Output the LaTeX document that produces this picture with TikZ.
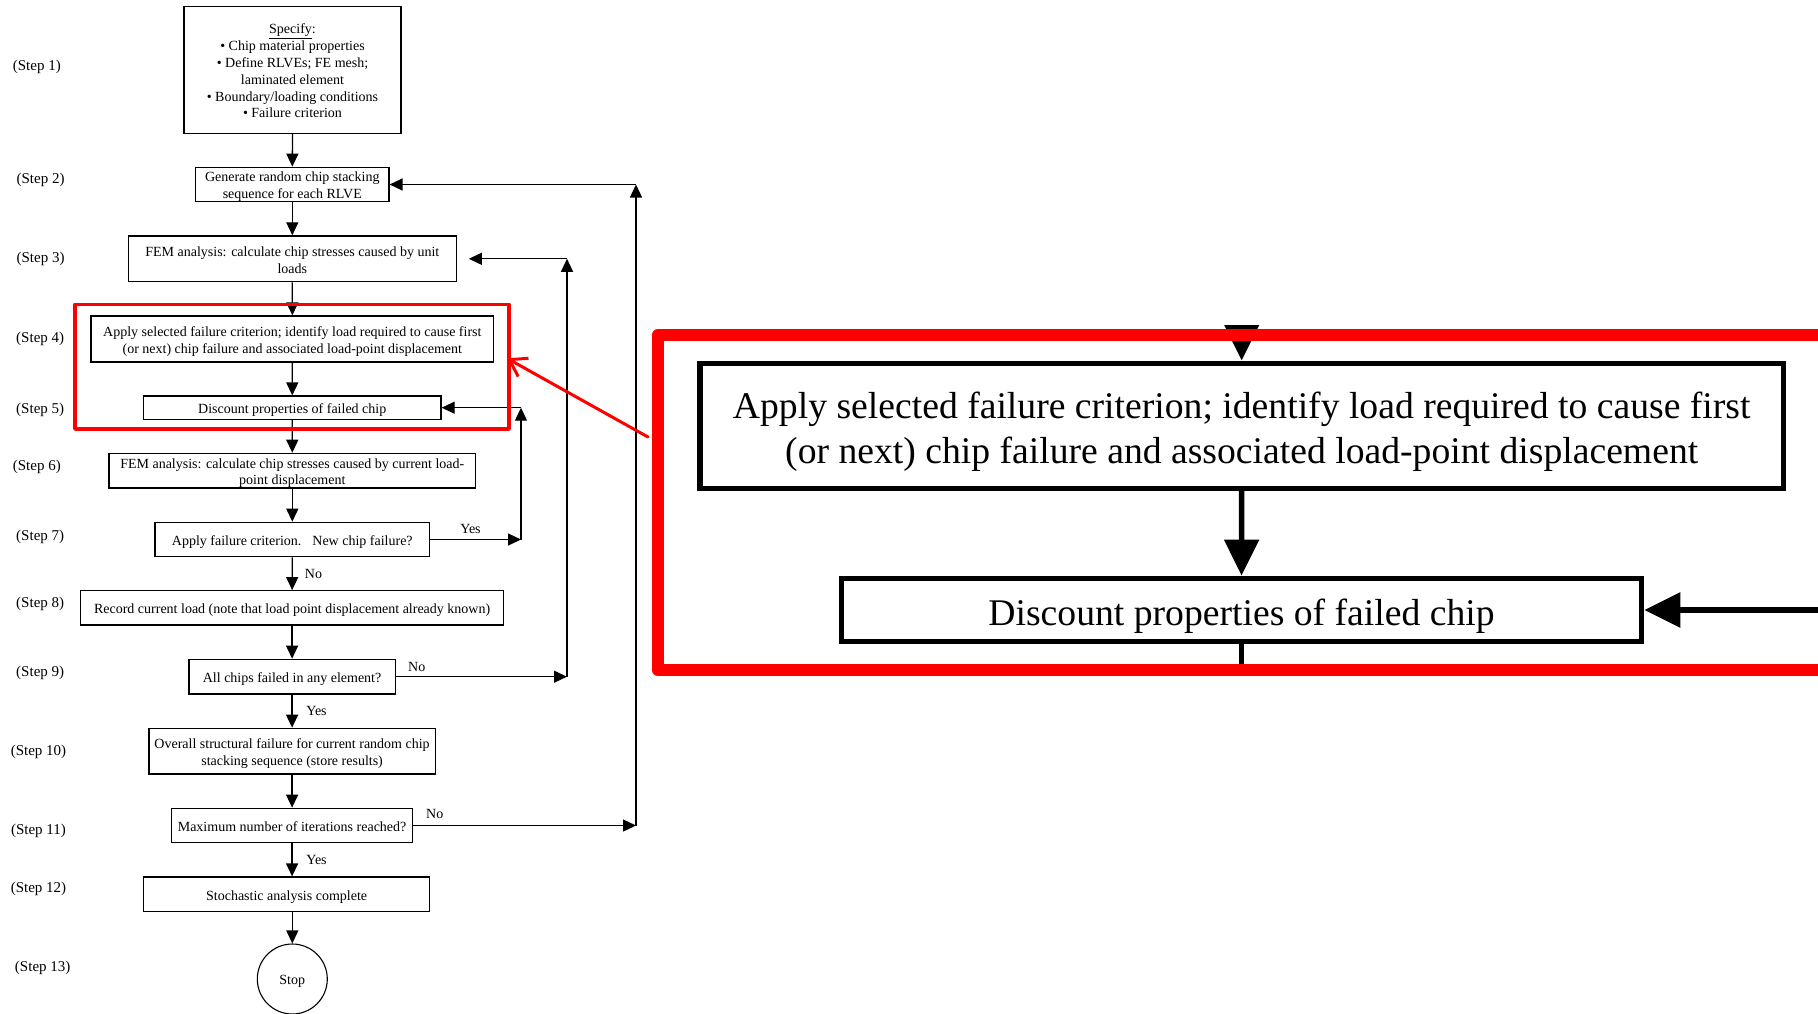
\documentclass[tikz,border=0pt]{standalone}
\usepackage{fontspec}
\setmainfont{Liberation Serif}
\usetikzlibrary{arrows.meta}

\newcommand{\boxfont}{\fontsize{14}{16.8}\selectfont}
\newcommand{\labfont}{\fontsize{15}{18}\selectfont}
\newcommand{\bigfont}{\fontsize{37.66}{45.2}\selectfont}
% centred block of lines, lowered slightly inside its frame (frame size unchanged)
\newcommand{\txt}[2][2.5pt]{\raisebox{-#1}[\height][\depth]{\begin{tabular}{@{}c@{}}#2\end{tabular}}}

\begin{document}
\begin{tikzpicture}[x=1pt,y=-1pt,
  flowbox/.style={draw, line width=1.3pt, inner sep=0pt, font=\boxfont},
  steplabel/.style={inner sep=0pt, font=\labfont},
  branch/.style={inner sep=0pt, font=\boxfont},
  flowarrow/.style={line width=1.3pt, -{Triangle[length=13pt,width=12pt]}},
  zoombox/.style={draw, line width=5.5pt, inner sep=0pt, font=\bigfont},
  zoomarrow/.style={line width=5.5pt, -{Triangle[length=36pt,width=34pt]}},
  zoomline/.style={line width=5.5pt},
  redframe/.style={draw=red, line width=3.5pt, line join=round, inner sep=0pt},
]
\useasboundingbox (0,0) rectangle (1818,1013);

% ---------------- flowchart boxes ----------------
\node[flowbox, minimum width=217pt, minimum height=126.6pt] (s1) at (292.5,70)
  {\txt{\underline{Specify}:\\• Chip material properties\\• Define RLVEs; FE mesh;\\laminated element\\• Boundary/loading conditions\\• Failure criterion}};
\node[flowbox, minimum width=193.2pt, minimum height=34.4pt] (s2) at (292.3,184.5)
  {\txt{Generate random chip stacking\\sequence for each RLVE}};
\node[flowbox, minimum width=327.8pt, minimum height=45.7pt] (s3) at (292.3,258.8)
  {\txt{FEM analysis: calculate chip stresses caused by unit\\loads}};
\node[flowbox, minimum width=402.7pt, minimum height=46pt] (s4) at (292.35,339)
  {\txt{Apply selected failure criterion; identify load required to cause first\\(or next) chip failure and associated load-point displacement}};
\node[flowbox, minimum width=297.5pt, minimum height=23.3pt] (s5) at (292.25,407.7)
  {\txt{Discount properties of failed chip}};
\node[flowbox, minimum width=366.6pt, minimum height=34.7pt] (s6) at (292.3,470.7)
  {\txt{FEM analysis: calculate chip stresses caused by current load-\\point displacement}};
\node[flowbox, minimum width=274.8pt, minimum height=34.4pt] (s7) at (292.3,539.5)
  {\txt{Apply failure criterion.\hspace{11pt}New chip failure?}};
\node[flowbox, minimum width=423.4pt, minimum height=34.3pt] (s8) at (292.1,607.9)
  {\txt{Record current load (note that load point displacement already known)}};
\node[flowbox, minimum width=206.2pt, minimum height=34.7pt] (s9) at (292.1,676.7)
  {\txt{All chips failed in any element?}};
\node[flowbox, minimum width=286.2pt, minimum height=45.7pt] (s10) at (292.1,751.2)
  {\txt{Overall structural failure for current random chip\\stacking sequence (store results)}};
\node[flowbox, minimum width=240.8pt, minimum height=34.4pt] (s11) at (292.1,825.5)
  {\txt{Maximum number of iterations reached?}};
\node[flowbox, minimum width=286.2pt, minimum height=34.3pt] (s12) at (286.6,894.2)
  {\txt{Stochastic analysis complete}};
\node[circle, draw, line width=1.1pt, minimum size=70pt, inner sep=0pt, font=\boxfont] (stop) at (292.3,979) {\txt[2pt]{Stop}};

% ---------------- step labels ----------------
\node[steplabel] (l1)  at (36.8,66.7)  {(Step 1)};
\node[steplabel] (l2)  at (40.6,180)   {(Step 2)};
\node[steplabel] (l3)  at (40.6,258.7) {(Step 3)};
\node[steplabel] (l4)  at (40.2,338.7) {(Step 4)};
\node[steplabel] (l5)  at (40.2,410.3) {(Step 5)};
\node[steplabel] (l6)  at (36.8,466.7) {(Step 6)};
\node[steplabel] (l7)  at (40.2,536.7) {(Step 7)};
\node[steplabel] (l8)  at (40.2,603.7) {(Step 8)};
\node[steplabel] (l9)  at (40.2,673.3) {(Step 9)};
\node[steplabel] (l10) at (38.5,751.7) {(Step 10)};
\node[steplabel] (l11) at (38.5,831)   {(Step 11)};
\node[steplabel] (l12) at (38.5,889.3) {(Step 12)};
\node[steplabel] (l13) at (42.7,968.3) {(Step 13)};

% ---------------- main sequence ----------------
\draw[flowarrow] (s1.south) -- (s2.north);
\draw[flowarrow] (s2.south) -- (s3.north);
\draw[flowarrow] (s3.south) -- (s4.north);
\draw[flowarrow] (s4.south) -- (s5.north);
\draw[flowarrow] (s5.south) -- (s6.north);
\draw[flowarrow] (s6.south) -- (s7.north);
\draw[flowarrow] (s7.south) -- (s8.north);
\draw[flowarrow] (s8.south) -- (s9.north);
\draw[flowarrow] (s9.south) -- (s10.north);
\draw[flowarrow] (s10.south) -- (s11.north);
\draw[flowarrow] (s11.south) -- (s11.south |- s12.north);
\draw[flowarrow] (s12.south -| stop.north) -- (stop.north);

% ---------------- feedback loops ----------------
\coordinate (r7) at (521,539.5);
\coordinate (r5) at (521,407.7);
\draw[flowarrow] (s7.east) -- (r7);
\draw[flowarrow] (r7) -- (r5);
\draw[flowarrow] (r5) -- (s5.east);

\coordinate (r9) at (567,676.7);
\coordinate (r3) at (567,258.8);
\draw[flowarrow] (s9.east) -- (r9);
\draw[flowarrow] (r9) -- (r3);
\draw[flowarrow, shorten >=12pt] (r3) -- (s3.east);

\coordinate (r11) at (636,825.5);
\coordinate (r2) at (636,184.5);
\draw[flowarrow] (s11.east) -- (r11);
\draw[flowarrow] (r11) -- (r2);
\draw[flowarrow] (r2) -- (s2.east);

% ---------------- branch labels ----------------
\node[branch] (y7)  at (470.5,528.7) {Yes};
\node[branch] (n7)  at (313.5,574.3) {No};
\node[branch] (n9)  at (416.7,666.7) {No};
\node[branch] (y9)  at (316.5,711)   {Yes};
\node[branch] (n11) at (434.8,814.3) {No};
\node[branch] (y11) at (316.5,860.3) {Yes};

% ---------------- highlighted steps 4-5 ----------------
\node[redframe, minimum width=434pt, minimum height=124.7pt] (focus) at (292,366.65) {};

% ---------------- magnified view of steps 4-5 ----------------
\begin{scope}
  \clip (645,325) rectangle (1818,668);
  \node[zoombox, minimum width=1083.5pt, minimum height=125pt] (z4) at (1241.7,425.8)
    {\txt[6pt]{Apply selected failure criterion; identify load required to cause first\\(or next) chip failure and associated load-point displacement}};
  \node[zoombox, minimum width=800pt, minimum height=63.4pt] (z5) at (1241.5,610)
    {\txt[6pt]{Discount properties of failed chip}};
  \coordinate (zin) at (1241.7,300);
  \coordinate (zout) at (1241.5,700);
  \coordinate (zloop) at (1830,610);
  \draw[zoomarrow] (zin) -- (z4.north);
  \draw[zoomarrow] (z4.south) -- (z5.north);
  \draw[zoomline] (z5.south) -- (zout);
  \draw[zoomarrow] (zloop) -- (z5.east);
\end{scope}
\draw[red, line width=12pt, line join=round] (657.8,335) rectangle (1840,670);

% pointer from the magnified view back to the highlighted steps
\coordinate (pout) at (648,437);
\coordinate (pin) at (507,358.3);
\draw[red, line width=3pt, line cap=round, -{Straight Barb[length=16pt,width=21pt]}] (pout) -- (pin);
\end{tikzpicture}
\end{document}
